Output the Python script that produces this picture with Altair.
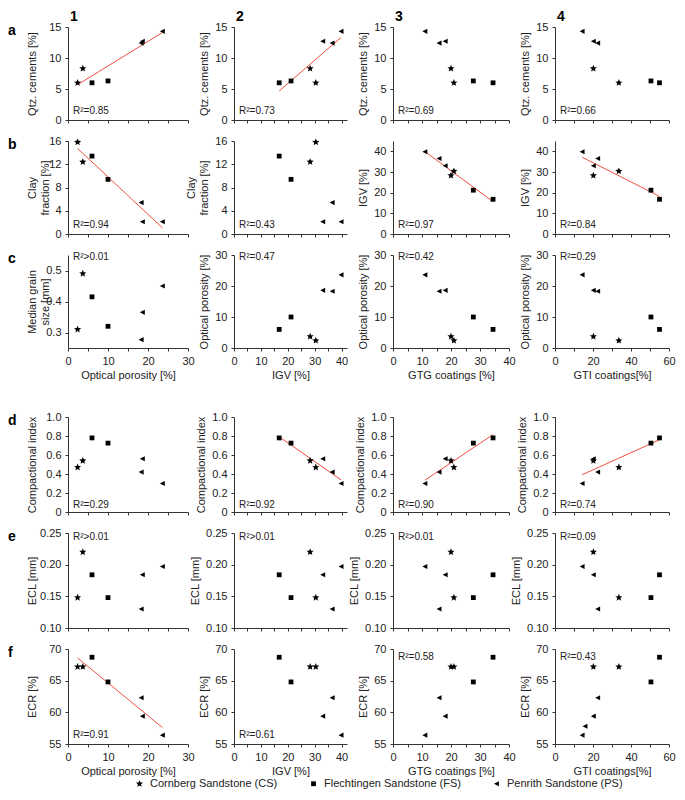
import altair as alt
import pandas as pd

# ---------------- data: one value per sample ----------------
groups = ["Cornberg Sandstone (CS)", "Cornberg Sandstone (CS)",
          "Flechtingen Sandstone (FS)", "Flechtingen Sandstone (FS)",
          "Penrith Sandstone (PS)", "Penrith Sandstone (PS)",
          "Penrith Sandstone (PS)", "Penrith Sandstone (PS)"]
optical_porosity = [3.7, 2.4, 6.0, 10.0, 18.3, 18.6, 23.6, None]
igv = [28.3, 30.4, 16.8, 21.2, 36.5, 33.0, 39.8, None]
gtg_coatings = [20.0, 21.0, 34.5, 27.7, 15.9, 18.0, 11.0, None]
gti_coatings = [20.2, 33.6, 55.0, 50.5, 22.5, 20.2, 14.3, 15.8]
qtz_cements = [8.3, 6.0, 6.0, 6.3, 12.4, 12.7, 14.3, None]
clay_fraction = [12.4, 15.8, 13.4, 9.4, 5.4, 2.1, 2.1, None]
median_grain_size = [0.49, 0.31, 0.415, 0.32, 0.277, 0.365, 0.45, None]
compactional_index = [0.54, 0.47, 0.78, 0.725, 0.42, 0.56, 0.30, None]
ecl = [0.220, 0.148, 0.184, 0.148, 0.130, 0.184, 0.197, None]
ecr = [67.2, 67.2, 68.7, 64.8, 62.3, 59.4, 56.4, 57.8]

col_headers = ["1", "2", "3", "4"]
row_letters = ["a", "b", "c", "d", "e", "f"]
r2_labels = [
    ["R²=0.85", "R²=0.73", "R²=0.69", "R²=0.66"],
    ["R²=0.94", "R²=0.43", "R²=0.97", "R²=0.84"],
    ["R²>0.01", "R²=0.47", "R²=0.42", "R²=0.29"],
    ["R²=0.29", "R²=0.92", "R²=0.90", "R²=0.74"],
    ["R²>0.01", "R²>0.01", "R²>0.01", "R²=0.09"],
    ["R²=0.91", "R²=0.61", "R²=0.58", "R²=0.43"],
]
r2_at_top = [[False] * 4, [False] * 4, [True] * 4, [False] * 4, [True] * 4,
             [False, False, True, True]]
trend_line = [[True, True, False, False], [True, False, True, True], [False] * 4,
              [False, True, True, True], [False] * 4, [True, False, False, False]]

values = {"op": optical_porosity, "igv": igv, "gtg": gtg_coatings, "gti": gti_coatings,
          "qtz": qtz_cements, "clay": clay_fraction, "mgs": median_grain_size,
          "ci": compactional_index, "ecl": ecl, "ecr": ecr}

x_keys = ["op", "igv", "gtg", "gti"]
y_keys = [["qtz"] * 4, ["clay", "clay", "igv", "igv"], ["mgs", "op", "op", "op"],
          ["ci"] * 4, ["ecl"] * 4, ["ecr"] * 4]

x_axes = {
    "op": dict(domain=[0, 30], ticks=[0, 5, 10, 15, 20, 25, 30], step=10, title="Optical porosity [%]"),
    "igv": dict(domain=[0, 42], ticks=[0, 5, 10, 15, 20, 25, 30, 35, 40], step=10, title="IGV [%]"),
    "gtg": dict(domain=[0, 40], ticks=[0, 5, 10, 15, 20, 25, 30, 35, 40], step=10, title="GTG coatings [%]"),
    "gti": dict(domain=[0, 60], ticks=[0, 10, 20, 30, 40, 50, 60], step=20, title="GTI coatings[%]"),
}
y_axes = {
    "qtz": dict(domain=[0, 15], ticks=[0, 5, 10, 15], title="Qtz. cements [%]"),
    "clay": dict(domain=[0, 16], ticks=[0, 4, 8, 12, 16], title=["Clay", "fraction [%]"]),
    "igv": dict(domain=[0, 45], ticks=[0, 10, 20, 30, 40], title="IGV [%]"),
    "mgs": dict(domain=[0.25, 0.55], ticks=[0.3, 0.4, 0.5], title=["Median grain", "size [mm]"], fmt=".1f"),
    "op": dict(domain=[0, 30], ticks=[0, 10, 20, 30], title="Optical porosity [%]"),
    "ci": dict(domain=[0, 1], ticks=[0, 0.2, 0.4, 0.6, 0.8, 1.0], title="Compactional index",
               expr="datum.value === 0 ? '0' : format(datum.value, '.1f')"),
    "ecl": dict(domain=[0.10, 0.25], ticks=[0.10, 0.15, 0.20, 0.25], title="ECL [mm]", fmt=".2f"),
    "ecr": dict(domain=[55, 70], ticks=[55, 60, 65, 70], title="ECR [%]"),
}

# ---------------- styling ----------------
FONT = "Liberation Sans"
RED = "#ef5040"
INK = "#222222"
WIDTHS = [120, 113, 116, 114]
H_TOP, H_BOT = 93, 95

STAR = ("M0,-1.25L0.33,-0.45L1.19,-0.39L0.53,0.17L0.73,1.01L0,0.56L-0.73,1.01"
        "L-0.53,0.17L-1.19,-0.39L-0.33,-0.45Z")
SQUARE = "M-0.8,-0.8L0.8,-0.8L0.8,0.8L-0.8,0.8Z"
TRI_LEFT = "M-0.85,0L0.8,-0.85L0.8,0.85Z"
group_names = ["Cornberg Sandstone (CS)", "Flechtingen Sandstone (FS)", "Penrith Sandstone (PS)"]

legend = alt.Legend(orient="none", legendX=66, legendY=751, direction="horizontal",
                    title=None, labelFont=FONT, labelFontSize=11, labelColor=INK,
                    symbolSize=36, symbolFillColor="black", symbolStrokeWidth=0,
                    columnPadding=30, labelOffset=5, padding=0)
shape_enc = alt.Shape("group:N", scale=alt.Scale(domain=group_names, range=[STAR, SQUARE, TRI_LEFT]),
                      legend=legend)


def panel(r, c):
    xk, yk = x_keys[c], y_keys[r][c]
    df = pd.DataFrame({"x": values[xk], "y": values[yk], "group": groups}).dropna()
    w = WIDTHS[c]
    h = H_TOP if r < 3 else H_BOT
    xa, ya = x_axes[xk], y_axes[yk]
    show_x = r in (2, 5)

    xaxis_kw = dict(values=xa["ticks"], labels=show_x, labelFlush=False, labelOverlap=False,
                    labelExpr=f"datum.value % {xa['step']} === 0 ? datum.label : ''",
                    title=xa["title"] if show_x else "")
    yaxis_kw = dict(values=ya["ticks"], title=ya["title"], labelFlush=False, labelOverlap=False,
                    titleBaseline="bottom")
    if "fmt" in ya:
        yaxis_kw["format"] = ya["fmt"]
    if "expr" in ya:
        yaxis_kw["labelExpr"] = ya["expr"]
    if c == 0:
        yaxis_kw["titleX"] = -31
        yaxis_kw["titleY"] = h / 2

    x = alt.X("x:Q", scale=alt.Scale(domain=xa["domain"], nice=False, zero=False), axis=alt.Axis(**xaxis_kw))
    y = alt.Y("y:Q", scale=alt.Scale(domain=ya["domain"], nice=False, zero=False), axis=alt.Axis(**yaxis_kw))

    base = alt.Chart(df)
    layers = []
    if trend_line[r][c]:
        layers.append(base.transform_regression("x", "y").mark_line(color=RED, strokeWidth=1)
                      .encode(x=x, y=y))
    layers.append(base.mark_point(filled=True, opacity=1, color="black", strokeWidth=0, size=36)
                  .encode(x=x, y=y, shape=shape_enc))

    if r2_at_top[r][c]:
        ty = {2: 2, 4: 4, 5: 8}[r]
    else:
        ty = h - (7 if r == 3 else 9)
    layers.append(alt.Chart(pd.DataFrame({"t": [r2_labels[r][c]]}))
                  .mark_text(align="left", baseline="middle", font=FONT, fontSize=10, color=INK)
                  .encode(text="t:N", x=alt.value(5), y=alt.value(ty)))
    if r == 0:
        layers.append(alt.Chart(pd.DataFrame({"t": [col_headers[c]]}))
                      .mark_text(align="center", baseline="alphabetic", font=FONT, fontSize=14,
                                 fontWeight="bold", color="black")
                      .encode(text="t:N", x=alt.value(6), y=alt.value(-6)))
    if c == 0:
        layers.append(alt.Chart(pd.DataFrame({"t": [row_letters[r]]}))
                      .mark_text(align="left", baseline="middle", font=FONT, fontSize=14,
                                 fontWeight="bold", color="black")
                      .encode(text="t:N", x=alt.value(-60), y=alt.value(4)))
    return alt.layer(*layers).properties(width=w, height=h)


def spacer(c):
    return (alt.Chart(pd.DataFrame({"t": [""]})).mark_text(opacity=0)
            .encode(text="t:N", x=alt.value(0), y=alt.value(0))
            .properties(width=WIDTHS[c], height=27))


cells = []
for r in range(6):
    if r == 3:
        cells += [spacer(c) for c in range(4)]
    cells += [panel(r, c) for c in range(4)]

chart = alt.concat(*cells, columns=4, spacing={"row": 21, "column": 46},
                   bounds="flush", align="each").properties(
    padding={"top": 2, "left": 0, "right": 0, "bottom": 0})

chart = chart.configure_view(stroke=None).configure_axis(
    domainColor="#333333", tickColor="#333333", labelColor=INK, titleColor=INK,
    labelFont=FONT, titleFont=FONT, labelFontSize=11, titleFontSize=11,
    titleFontWeight="normal", grid=False, tickSize=3, labelPadding=4,
    domainWidth=1, tickWidth=1
).configure_axisX(titlePadding=3).configure_axisY(titlePadding=5)

chart.save("out.html", embed_options={"renderer": "svg", "actions": False})
